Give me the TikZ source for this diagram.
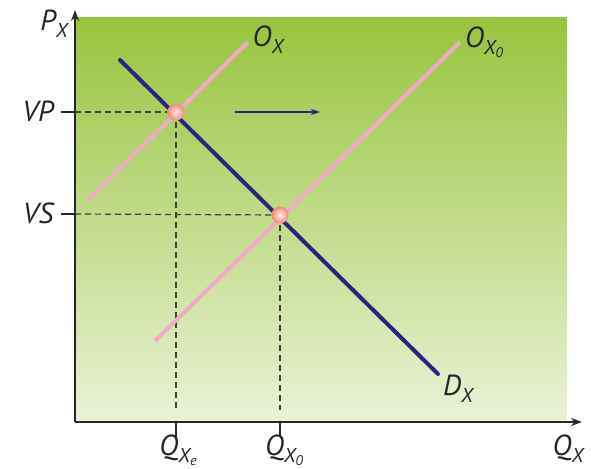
\documentclass[tikz,border=0pt]{standalone}
\usepackage{fontspec}
\setmainfont{PT Sans}
\usetikzlibrary{arrows.meta}
\definecolor{gtop}{RGB}{152,196,62}
\definecolor{gbot}{RGB}{234,242,214}
\definecolor{supply}{RGB}{242,170,200}
\definecolor{demand}{RGB}{40,36,128}
\definecolor{axisc}{RGB}{40,40,40}
\definecolor{ballc}{RGB}{244,135,115}
\newcommand\sbx[1]{\raisebox{-0.25em}{\fontsize{20}{20}\selectfont #1}}
\newcommand\ssbx[1]{\raisebox{-0.12em}{\fontsize{14}{14}\selectfont #1}}
\tikzset{
  lbl/.style={font=\fontsize{29}{30}\selectfont\itshape, inner sep=0pt, text=black!85},
  axisline/.style={axisc, line width=1.4pt, -{Stealth[length=11pt,width=8pt]}},
  guide/.style={black!75, line width=1.2pt, dash pattern=on 6pt off 4pt},
  tickline/.style={axisc, line width=1.2pt},
  supplyline/.style={supply, line width=4pt},
  demandline/.style={demand, line width=4pt, line cap=round},
  ball/.style={circle, minimum size=17pt, inner sep=0pt, inner color=white!85!ballc, outer color=ballc},
}
\begin{document}
\begin{tikzpicture}[x=1pt,y=-1pt]
\useasboundingbox (0,0) rectangle (591,468);
% background panel
\shade[top color=gtop, bottom color=gbot] (75,18) rectangle (567,422);
% coordinates
\coordinate (O) at (75,422);
\coordinate (ytop) at (75,10);
\coordinate (xend) at (582,422);
\coordinate (vp) at (75,112);
\coordinate (vpt) at (61,112);
\coordinate (vs) at (75,214);
\coordinate (vst) at (61,214);
\coordinate (qe) at (176,410);
\coordinate (qeb) at (176,422);
\coordinate (qet) at (176,437);
\coordinate (q0) at (280,410);
\coordinate (q0b) at (280,422);
\coordinate (q0t) at (280,437);
\coordinate (s1a) at (88,200);
\coordinate (s1b) at (248,42);
\coordinate (s2a) at (155,341);
\coordinate (s2b) at (460,42);
\coordinate (da) at (120,60);
\coordinate (db) at (438,374);
\coordinate (ara) at (235,112);
\coordinate (arb) at (320,112);
\coordinate (c1) at (176,112);
\coordinate (c2) at (280,215);
% guides
\draw[guide] (vp) -- (c1);
\draw[guide] (c1) -- (qe);
\draw[guide] (vs) -- (c2);
\draw[guide] (c2) -- (q0);
% supply and demand
\draw[supplyline] (s1a) -- (s1b);
\draw[supplyline] (s2a) -- (s2b);
\draw[demandline] (da) -- (db);
% dots
\node[ball] (e1) at (c1) {};
\node[ball] (e2) at (c2) {};
% shift arrow
\draw[demand, line width=1.2pt, -{Stealth[length=9pt,width=6pt]}] (ara) -- (arb);
% axes
\draw[axisline] (O) -- (ytop);
\draw[axisline] (O) -- (xend);
\draw[tickline] (vpt) -- (vp);
\draw[tickline] (vst) -- (vs);
\draw[tickline] (qeb) -- (qet);
\draw[tickline] (q0b) -- (q0t);
% labels
\node[lbl] (py) at (54,24) {P\sbx{X}};
\node[lbl] (lvp) at (38,111) {VP};
\node[lbl] (lvs) at (38,213) {VS};
\node[lbl] (lox) at (268,40) {O\sbx{X}};
\node[lbl] (lox0) at (484,42) {O\sbx{X\ssbx{0}}};
\node[lbl] (ldx) at (458,389) {D\sbx{X}};
\node[lbl] (lqe) at (178,450) {Q\sbx{X\ssbx{e}}};
\node[lbl] (lq0) at (284,450) {Q\sbx{X\ssbx{0}}};
\node[lbl] (lqx) at (568,449) {Q\sbx{X}};
\end{tikzpicture}
\end{document}
